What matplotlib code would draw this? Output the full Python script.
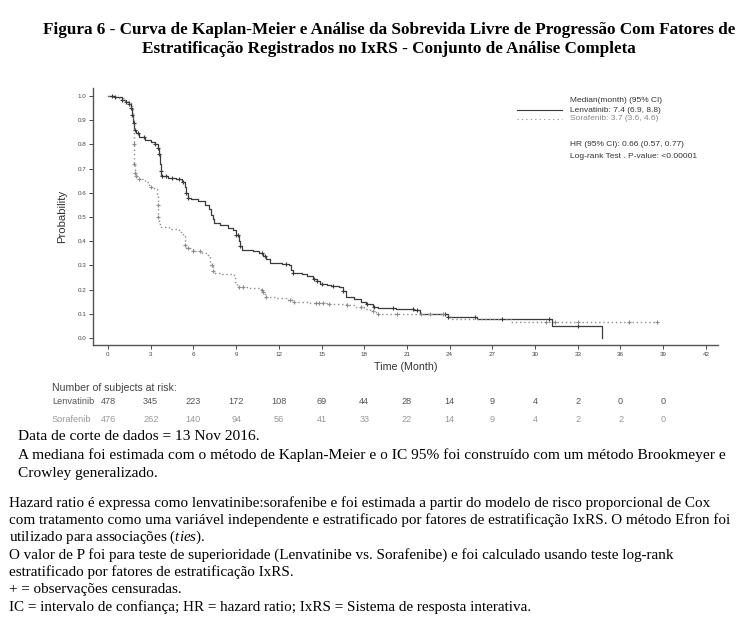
import matplotlib
matplotlib.use('Agg')
import matplotlib.pyplot as plt
import numpy as np

plt.rcParams['font.family'] = 'Liberation Sans'
plt.rcParams['mathtext.fontset'] = 'custom'
plt.rcParams['mathtext.it'] = 'Liberation Serif:italic'
plt.rcParams['mathtext.rm'] = 'Liberation Serif'

# ---- data ----
len_t = [0, 0.5, 1.0, 1.3, 1.5, 1.6, 1.7, 1.75, 1.85, 1.95, 2.2, 2.6, 3.0, 3.3, 3.5, 3.6,
         3.65, 3.7, 3.75, 4.2, 4.8, 5.2, 5.4, 5.5, 5.6, 5.8, 6.3, 6.8, 7.1, 7.25, 7.35, 7.45,
         7.9, 8.4, 8.8, 9.0, 9.2, 9.3, 9.4, 10.2, 10.6, 10.9, 11.1, 11.4, 12.2, 12.7, 12.85,
         13.0, 13.6, 14.0, 14.4, 14.7, 14.9, 15.4, 15.7, 16.2, 16.5, 16.7, 17.3, 17.8, 18.1,
         18.6, 19.0, 20.2, 21.5, 21.9, 23.9, 25.9, 31.2, 34.7]
len_s = [1.0, 0.995, 0.985, 0.975, 0.965, 0.95, 0.92, 0.89, 0.86, 0.845, 0.83, 0.82, 0.81,
         0.80, 0.785, 0.76, 0.72, 0.69, 0.67, 0.66, 0.655, 0.645, 0.625, 0.60, 0.58, 0.575,
         0.565, 0.55, 0.535, 0.51, 0.49, 0.475, 0.465, 0.455, 0.445, 0.425, 0.40, 0.38, 0.365,
         0.36, 0.35, 0.34, 0.325, 0.31, 0.305, 0.30, 0.28, 0.27, 0.265, 0.255, 0.245, 0.235,
         0.225, 0.22, 0.215, 0.21, 0.195, 0.17, 0.16, 0.15, 0.14, 0.13, 0.125, 0.12, 0.115,
         0.10, 0.085, 0.078, 0.05, 0.0]
len_cens = [0.3, 0.5, 1.0, 1.3, 1.5, 1.65, 1.7, 1.8, 1.9, 2.1, 2.5, 3.3, 3.5, 3.6, 3.7, 3.8,
            4.1, 4.5, 5.0, 5.3, 5.5, 5.6, 9.0, 9.1, 9.3, 10.8, 11.0, 12.5, 13.0, 14.5, 14.7,
            15.0, 15.8, 16.5, 18.2, 18.7, 20.0, 21.4, 21.7, 23.7, 23.9, 25.8, 27.7, 31.0, 33.0]

sor_t = [0, 0.6, 1.2, 1.6, 1.75, 1.8, 1.85, 1.9, 2.0, 2.2, 2.6, 2.9, 3.2, 3.45, 3.5, 3.55,
         3.6, 3.7, 4.3, 5.0, 5.3, 5.4, 5.5, 6.0, 6.6, 7.0, 7.2, 7.35, 7.5, 8.0, 8.7, 8.95,
         9.05, 10.0, 10.75, 10.85, 11.0, 11.1, 11.8, 12.5, 13.0, 14.2, 15.5, 16.8, 17.3, 18.0,
         18.4, 18.8, 23.9, 24.2, 28.3, 38.7]
sor_s = [1.0, 0.99, 0.98, 0.96, 0.90, 0.80, 0.72, 0.68, 0.67, 0.655, 0.645, 0.625, 0.615,
         0.595, 0.55, 0.50, 0.47, 0.46, 0.45, 0.44, 0.42, 0.385, 0.37, 0.36, 0.35, 0.34, 0.30,
         0.275, 0.27, 0.265, 0.26, 0.23, 0.21, 0.205, 0.20, 0.19, 0.175, 0.17, 0.165, 0.155,
         0.15, 0.145, 0.14, 0.135, 0.13, 0.12, 0.11, 0.10, 0.085, 0.078, 0.066, 0.066]
sor_cens = [1.8, 1.85, 1.9, 2.0, 2.2, 3.0, 3.5, 3.55, 5.4, 5.6, 6.0, 6.5, 7.3, 7.4, 9.2, 9.5,
            10.8, 10.9, 11.1, 12.8, 13.1, 14.6, 14.8, 15.1, 15.5, 16.8, 17.8, 18.6, 19.0,
            20.3, 22.0, 22.6, 23.5, 30.8, 31.4, 33.0, 36.6, 38.6]

risk_times = [0, 3, 6, 9, 12, 15, 18, 21, 24, 27, 30, 33, 36, 39]
risk_len = [478, 345, 223, 172, 108, 69, 44, 28, 14, 9, 4, 2, 0, 0]
risk_sor = [476, 262, 140, 94, 56, 41, 33, 22, 14, 9, 4, 2, 2, 0]

xticks = list(range(0, 43, 3))
yticks = [0.0, 0.1, 0.2, 0.3, 0.4, 0.5, 0.6, 0.7, 0.8, 0.9, 1.0]

C_LEN = '#3a3a3a'
C_SOR = '#8c8c8c'


def step_at(ts, ss, x):
    i = np.searchsorted(ts, x, side='right') - 1
    return np.array(ss)[i]


fig = plt.figure(figsize=(7.44, 6.21), dpi=100)
W, H = 744, 621

ax = fig.add_axes([93 / W, 1 - 345 / H, (718 - 93) / W, (345 - 88) / H])
ax.step(len_t, len_s, where='post', color=C_LEN, lw=0.9)
ax.step(sor_t, sor_s, where='post', color=C_SOR, lw=1.0, ls=(0, (1, 2)))
ax.plot(len_cens, step_at(len_t, len_s, len_cens), '+', color=C_LEN, ms=3.5, mew=0.8)
ax.plot(sor_cens, step_at(sor_t, sor_s, sor_cens), '+', color=C_SOR, ms=3.5, mew=0.8)

ax.set_xlim(-1.05, 42.85)
ax.set_ylim(-0.029, 1.033)
ax.set_xticks(xticks)
ax.set_xticklabels([str(v) for v in xticks], fontsize=4.5)
ax.set_yticks(yticks)
ax.set_yticklabels(['%.1f' % v for v in yticks], fontsize=4.5)
ax.tick_params(length=3, width=0.7, colors='#444', pad=2)
for s in ['top', 'right']:
    ax.spines[s].set_visible(False)
for s in ['left', 'bottom']:
    ax.spines[s].set_color('#555')
    ax.spines[s].set_linewidth(1.0)
ax.set_ylabel('Probability', fontsize=8.2, color='#333', labelpad=7)
ax.set_xlabel('Time (Month)', fontsize=7.7, color='#333', labelpad=4)

# legend block
def px(x, y):
    return x / W, 1 - y / H

fs_leg = 6.0
fig.text(*px(570, 100), 'Median(month) (95% CI)', fontsize=fs_leg, color='#333', va='center')
fig.lines.append(plt.Line2D([517 / W, 562 / W], [1 - 110 / H] * 2, color=C_LEN, lw=0.8,
                            transform=fig.transFigure))
fig.lines.append(plt.Line2D([517 / W, 562 / W], [1 - 119 / H] * 2, color=C_SOR, lw=0.8,
                            ls=(0, (1, 3)), transform=fig.transFigure))
fig.text(*px(570, 110), 'Lenvatinib: 7.4 (6.9, 8.8)', fontsize=fs_leg, color='#333', va='center')
fig.text(*px(570, 119), 'Sorafenib: 3.7 (3.6, 4.6)', fontsize=fs_leg, color='#888', va='center')
fig.text(*px(570, 145), 'HR (95% CI): 0.66 (0.57, 0.77)', fontsize=fs_leg, color='#333', va='center')
fig.text(*px(570, 156), 'Log-rank Test . P-value: <0.00001', fontsize=fs_leg, color='#333', va='center')

# number at risk
def xpix(t):
    return (108 + t * (706 - 108) / 42) / W

fig.text(*px(52, 388), 'Number of subjects at risk:', fontsize=7.6, color='#444', va='center')
fig.text(*px(52, 402), 'Lenvatinib', fontsize=6.6, color='#555', va='center')
fig.text(*px(52, 420), 'Sorafenib', fontsize=6.6, color='#999', va='center')
for t, a, b in zip(risk_times, risk_len, risk_sor):
    fig.text(xpix(t), 1 - 402 / H, str(a), fontsize=6.6, color='#555', ha='center', va='center')
    fig.text(xpix(t), 1 - 420 / H, str(b), fontsize=6.6, color='#999', ha='center', va='center')

# title
serif = 'Liberation Serif'
fig.text(*px(389, 30), 'Figura 6 - Curva de Kaplan-Meier e Análise da Sobrevida Livre de Progressão Com Fatores de',
         family=serif, fontsize=12.3, fontweight='bold', ha='center', va='center')
fig.text(*px(389, 49), 'Estratificação Registrados no IxRS - Conjunto de Análise Completa',
         family=serif, fontsize=12.3, fontweight='bold', ha='center', va='center')

notes1 = ['Data de corte de dados = 13 Nov 2016.',
          'A mediana foi estimada com o método de Kaplan-Meier e o IC 95% foi construído com um método Brookmeyer e',
          'Crowley generalizado.']
for i, line in enumerate(notes1):
    fig.text(*px(18, 437 + 18 * i), line, family=serif, fontsize=11.1, va='center')

notes2 = ['Hazard ratio é expressa como lenvatinibe:sorafenibe e foi estimada a partir do modelo de risco proporcional de Cox',
          'com tratamento como uma variável independente e estratificado por fatores de estratificação IxRS. O método Efron foi',
          'utilizado para associações ($\\it{ties}$).',
          'O valor de P foi para teste de superioridade (Lenvatinibe vs. Sorafenibe) e foi calculado usando teste log-rank',
          'estratificado por fatores de estratificação IxRS.',
          '+ = observações censuradas.',
          'IC = intervalo de confiança; HR = hazard ratio; IxRS = Sistema de resposta interativa.']
for i, line in enumerate(notes2):
    fig.text(*px(9, 503 + 17.3 * i), line, family=serif, fontsize=10.9, va='center')

fig.savefig('out.png', dpi=100, facecolor='white')
